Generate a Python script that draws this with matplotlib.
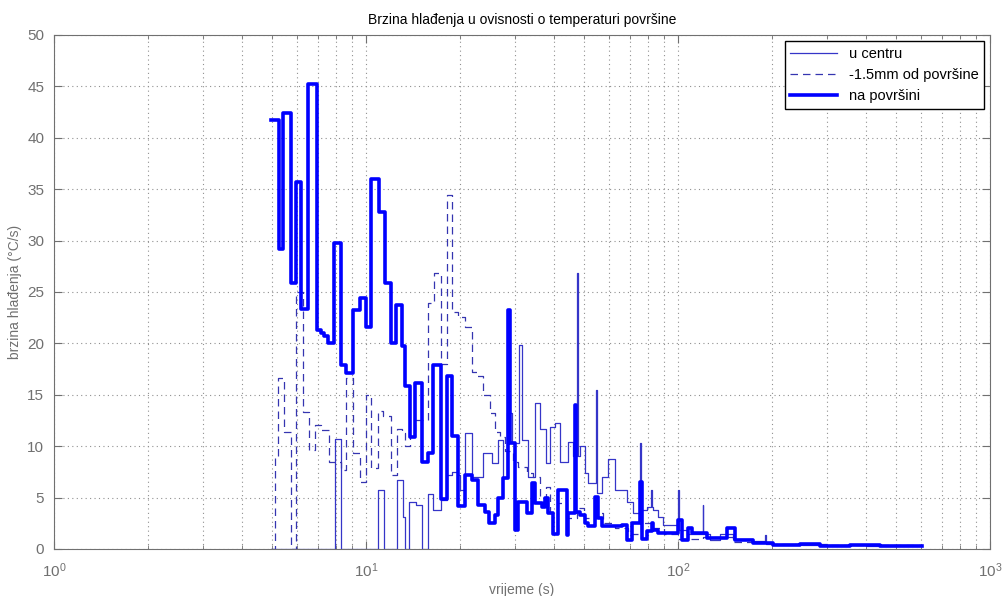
import matplotlib.pyplot as plt

# vrijeme (s) i brzina hladjenja (C/s) - stepenasti podaci
t_centar = [4.95, 7.94, 8.30, 10.95, 11.42, 12.54, 13.09, 13.30, 13.77, 14.46, 15.09,
            15.84, 16.44, 17.39, 18.14, 18.91, 19.76, 20.01, 20.77, 21.82, 23.77, 25.29,
            26.55, 27.55, 28.25, 29.31, 31.00, 31.55, 33.13, 34.81, 36.12, 37.75, 38.88,
            40.35, 41.87, 44.40, 46.00, 47.30, 47.70, 48.52, 50.34, 51.46, 54.40, 54.90,
            56.93, 59.78, 62.82, 68.50, 71.91, 75.60, 76.30, 79.38, 82.00, 82.60, 83.33,
            86.47, 89.73, 100.2, 100.8, 106.6, 120.0, 120.6, 126.6, 136.3, 150.0, 174.0,
            190.0, 191.5, 250.0, 400.0, 605.0]
y_centar = [0, 10.7, 0, 5.7, 0, 6.7, 3.1, 0, 4.6, 4.3, 0,
            5.3, 3.8, 4.8, 7.2, 7.5, 7.2, 5.7, 11.3, 7.0, 9.3, 8.4,
            10.6, 6.9, 13.2, 10.3, 19.8, 10.6, 7.0, 14.2, 11.7, 8.4, 11.9,
            12.3, 8.5, 10.4, 9.0, 26.8, 9.0, 10.0, 7.4, 6.4, 15.5, 5.4,
            7.0, 8.8, 5.7, 4.6, 3.5, 10.3, 3.8, 4.1, 5.7, 4.1, 3.8,
            3.1, 2.3, 5.7, 1.8, 1.5, 4.3, 1.5, 0.9, 1.5, 1.0, 0.8,
            1.4, 0.5, 0.4, 0.3, 0.3]

t_sloj = [4.95, 5.12, 5.22, 5.46, 5.74, 5.97, 6.28, 6.57, 6.86, 7.17, 7.61, 8.30,
          8.65, 9.09, 9.55, 10.02, 10.38, 10.95, 11.36, 12.03, 12.54, 13.07, 13.34,
          13.84, 14.36, 15.84, 16.56, 17.39, 18.14, 18.91, 19.76, 20.77, 21.82, 22.74,
          23.77, 24.97, 25.91, 26.88, 27.89, 29.59, 30.77, 32.74, 34.37, 36.12, 37.75,
          38.88, 39.84, 41.34, 44.00, 47.46, 50.00, 54.60, 57.60, 62.80, 69.30, 75.90,
          82.00, 90.00, 100.0, 120.0, 150.0, 200.0, 300.0, 605.0]
y_sloj = [0, 9.0, 16.6, 11.4, 0, 25.0, 13.3, 9.6, 12.1, 11.6, 8.5, 7.7,
          16.6, 9.3, 6.5, 15.0, 7.9, 13.4, 12.9, 7.2, 11.7, 11.3, 10.0,
          11.0, 12.5, 23.9, 26.8, 18.0, 34.4, 23.1, 22.6, 21.6, 17.2, 16.8,
          15.0, 13.2, 11.4, 10.9, 9.5, 8.5, 8.0, 7.4, 7.0, 5.0, 6.0,
          3.5, 1.5, 4.5, 3.0, 4.0, 3.0, 3.5, 2.5, 2.0, 1.5, 2.5,
          2.0, 1.5, 1.0, 1.2, 0.7, 0.5, 0.4, 0.4]

t_povrsina = [4.97, 5.25, 5.42, 5.74, 5.97, 6.19, 6.52, 6.98, 7.17, 7.34, 7.55, 7.88,
              8.30, 8.65, 9.09, 9.55, 10.02, 10.38, 11.01, 11.51, 12.03, 12.48, 13.07,
              13.34, 13.84, 14.36, 15.15, 15.84, 16.44, 17.39, 18.14, 18.91, 19.76, 20.77,
              21.82, 22.91, 24.07, 24.85, 25.91, 26.55, 27.55, 28.58, 28.90, 30.03, 30.77,
              32.74, 33.97, 34.81, 36.57, 37.48, 38.40, 39.84, 41.34, 43.99, 44.31, 46.76,
              47.20, 48.52, 50.34, 51.46, 54.20, 55.41, 56.93, 66.02, 68.50, 71.06, 75.56,
              76.50, 79.38, 82.36, 83.33, 86.47, 100.2, 103.0, 107.9, 110.6, 123.6, 143.2,
              152.3, 174.0, 201.6, 246.0, 285.0, 355.8, 444.0, 514.6, 605.4]
y_povrsina = [41.7, 29.2, 42.4, 25.9, 35.7, 23.3, 45.2, 21.3, 21.0, 20.7, 20.0, 29.8,
              17.9, 17.1, 23.2, 24.4, 21.6, 36.0, 32.8, 25.9, 20.0, 23.7, 19.7,
              15.9, 10.9, 16.1, 8.5, 9.3, 17.9, 4.9, 16.8, 11.0, 4.2, 7.2,
              6.7, 4.3, 3.6, 2.5, 3.3, 5.0, 6.9, 23.2, 10.3, 1.8, 4.6,
              3.5, 6.4, 4.5, 4.1, 5.0, 3.5, 1.5, 5.7, 1.4, 3.5, 14.0,
              3.6, 3.3, 2.5, 2.2, 5.1, 3.0, 2.2, 2.3, 0.9, 2.5, 6.5,
              1.0, 1.7, 2.5, 1.8, 1.6, 2.8, 0.9, 2.0, 1.6, 1.1, 2.0,
              0.9, 0.6, 0.4, 0.5, 0.3, 0.4, 0.3, 0.3, 0.3]

plt.rcParams['font.family'] = ['Liberation Sans', 'DejaVu Sans']

fig = plt.figure(figsize=(10.04, 5.96), dpi=100)
ax = fig.add_axes([0.0538, 0.0789, 0.9324, 0.8624])

ax.plot(t_centar, y_centar, drawstyle='steps-post', color='#3535c8', lw=0.9, label='u centru')
ax.plot(t_sloj, y_sloj, drawstyle='steps-post', color='#3535b0', lw=0.9,
        linestyle=(0, (6, 4)), label='-1.5mm od površine')
ax.plot(t_povrsina, y_povrsina, drawstyle='steps-post', color='#0000ff', lw=2.6,
        label='na površini')

ax.set_xscale('log')
ax.set_xlim(1, 1000)
ax.set_ylim(0, 50)
ax.set_yticks(range(0, 51, 5))

grey = '#707070'
ax.grid(True, which='major', linestyle=(0, (1, 3)), color='#909090', lw=0.8)
ax.grid(True, which='minor', axis='x', linestyle=(0, (1, 3)), color='#909090', lw=0.8)
ax.tick_params(which='both', direction='in', top=True, right=True, colors=grey,
               labelsize=11, labelcolor=grey)
ax.tick_params(which='major', length=6)
ax.tick_params(which='minor', length=3)
ax.tick_params(axis='x', which='major', pad=9)
ax.tick_params(axis='y', which='major', pad=7)
for s in ax.spines.values():
    s.set_color(grey)

ax.set_xlabel('vrijeme (s)', color=grey, fontsize=10, labelpad=2)
ax.set_ylabel('brzina hlađenja (°C/s)', color=grey, fontsize=10, labelpad=4)
ax.set_title('Brzina hlađenja u ovisnosti o temperaturi površine', fontsize=10, pad=8)

leg = ax.legend(loc='upper right', fancybox=False, edgecolor='black', fontsize=10.5,
                borderaxespad=0.4, handlelength=3.2, framealpha=1)
leg.get_frame().set_linewidth(1.0)

fig.savefig('out.png', dpi=100)
